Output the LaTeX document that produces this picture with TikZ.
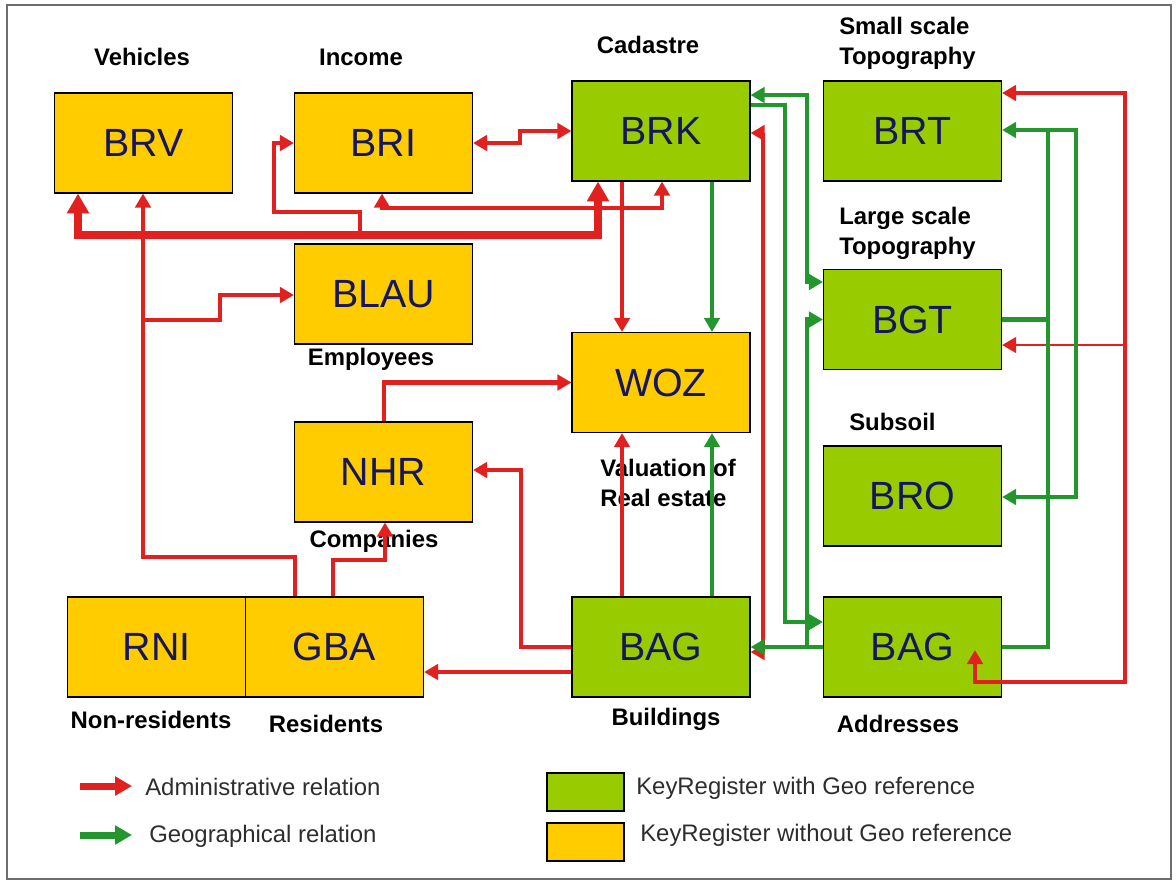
\documentclass[tikz,border=0pt]{standalone}
\usepackage{fontspec}
\setmainfont{Liberation Sans}
\usetikzlibrary{arrows.meta}
\definecolor{keyyellow}{RGB}{255,204,0}
\definecolor{keygreen}{RGB}{153,204,0}
\definecolor{admred}{RGB}{225,32,32}
\definecolor{geogreen}{RGB}{35,150,45}
\definecolor{regblue}{RGB}{22,22,92}
\definecolor{legendgray}{RGB}{45,45,45}
\definecolor{framegray}{RGB}{110,110,110}
\newcommand\regfont{\fontsize{28}{30}\selectfont}
\newcommand\capfont{\fontsize{17}{21}\selectfont\bfseries}
\newcommand\legfont{\fontsize{17}{21}\selectfont}
\begin{document}
\begin{tikzpicture}[x=0.025cm, y=-0.025cm,
    >={Triangle[length=10pt,width=11pt]},
    register/.style={draw=black, line width=0.8pt, minimum width=4.45cm, minimum height=2.5cm, inner sep=0pt, font=\regfont, text=regblue},
    georeg/.style={register, fill=keygreen},
    plainreg/.style={register, fill=keyyellow},
    caption/.style={font=\capfont, inner sep=0pt},
    legendtext/.style={font=\legfont, text=legendgray, inner sep=0pt},
    admlink/.style={draw=admred, line width=3pt, ->},
    geolink/.style={draw=geogreen, line width=3pt, ->},
    bus/.style={line width=5pt, >={Triangle[length=14pt,width=15pt]}}]
    \useasboundingbox (0,0) rectangle (1176,883);
    \draw[framegray, line width=1.5pt] (7,5) rectangle (1171,879);

    % Registers
    \node[plainreg] (brv) at (143.5,143) {BRV};
    \node[plainreg] (bri) at (383.5,143) {BRI};
    \node[georeg] (brk) at (661,131) {BRK};
    \node[georeg] (brt) at (912.5,131) {BRT};
    \node[plainreg] (blau) at (383.5,294) {BLAU};
    \node[plainreg] (woz) at (661,382.5) {WOZ};
    \node[georeg] (bgt) at (912.5,319.5) {BGT};
    \node[plainreg] (nhr) at (383.5,472) {NHR};
    \node[georeg] (bro) at (912.5,496) {BRO};
    \node[plainreg] (rni) at (156.5,647) {RNI};
    \node[plainreg] (gba) at (334.5,647) {GBA};
    \node[georeg] (bag) at (661,647) {BAG};
    \node[georeg] (adr) at (912.5,647) {BAG};

    % Captions
    \node[caption, anchor=base] (vehicles) at (142,65) {Vehicles};
    \node[caption, anchor=base] (income) at (361,65) {Income};
    \node[caption, anchor=base] (cadastre) at (648,53) {Cadastre};
    \node[caption, anchor=north west, align=left] (smalltopo) at (839,17) {Small scale\\Topography};
    \node[caption, anchor=north west, align=left] (largetopo) at (839,207) {Large scale\\Topography};
    \node[caption, anchor=base] (employees) at (371,365) {Employees};
    \node[caption, anchor=base west] (subsoil) at (849,430) {Subsoil};
    \node[caption, anchor=north west, align=left] (valuation) at (600,459) {Valuation of\\Real estate};
    \node[caption, anchor=base] (companies) at (374,547) {Companies};
    \node[caption, anchor=base] (nonres) at (151,728) {Non-residents};
    \node[caption, anchor=base] (residents) at (326,732) {Residents};
    \node[caption, anchor=base] (buildings) at (666,725) {Buildings};
    \node[caption, anchor=base] (addresses) at (898,732) {Addresses};

    % Administrative relations
    \draw[admlink, bus, <->] (brv.south -| 78,0) |- (598,235) -- (brk.south -| 598,0);
    \draw[admlink, line width=3.5pt] (360,235) |- (274,212) |- (bri.west);
    \draw[admlink] (gba.north -| 295,0) |- (143,557) -- (brv.south -| 143,0);
    \draw[admlink] (143,320) -| (220,295) -- (blau.west |- 0,295);
    \draw[admlink, line width=2.5pt, <->] (bri.south -| 382,0) |- (662,208) -- (brk.south -| 662,0);
    \draw[admlink, <->] (bri.east) -- (520,143) |- (brk.west);
    \draw[admlink] (brk.south -| 622,0) -- (woz.north -| 622,0);
    \draw[admlink] (nhr.north -| 384,0) |- (woz.west);
    \draw[admlink] (gba.north -| 333,0) |- (385,560) -- (nhr.south -| 385,0);
    \draw[admlink] (bag.west) -| (521,470) -- (nhr.east |- 0,470);
    \draw[admlink] (bag.west |- 0,672) -- (gba.east |- 0,672);
    \draw[admlink] (bag.north -| 622,0) -- (woz.south -| 622,0);
    \draw[admlink, <->] (brk.east |- 0,133) -| (763,652) -- (bag.east |- 0,652);
    \draw[admlink, -] (adr.west) -- (763,647);
    \coordinate (adrtip) at (975,650);
    \draw[admlink, <->] (adrtip) |- (1125,682) |- (brt.east |- 0,93);
    \draw[admlink, line width=2pt] (1125,345) -- (bgt.east |- 0,345);

    % Geographical relations
    \draw[geolink] (brk.south -| 712,0) -- (woz.north -| 712,0);
    \draw[geolink] (bag.north -| 712,0) -- (woz.south -| 712,0);
    \draw[geolink, <->] (brk.east |- 0,95) -| (807,282) -- (bgt.west |- 0,282);
    \draw[geolink] (807,647) |- (bgt.west);
    \draw[geolink] (brk.east |- 0,105) -| (785,622) -- (adr.west |- 0,622);
    \draw[geolink] (adr.west) -- (bag.east);
    \draw[geolink] (adr.east) -| (1048,130) -- (brt.east |- 0,130);
    \draw[geolink, -] (bgt.east) -- (1048,319.5);
    \draw[geolink] (1048,130) -| (1076,497) -- (bro.east |- 0,497);

    % Legend
    \coordinate (admstart) at (80,786);
    \coordinate (admend) at (132,786);
    \coordinate (geostart) at (80,835);
    \coordinate (geoend) at (132,835);
    \draw[admlink, line width=5pt, >={Triangle[length=12pt,width=13pt]}] (admstart) -- (admend);
    \draw[geolink, line width=5pt, >={Triangle[length=12pt,width=13pt]}] (geostart) -- (geoend);
    \node[legendtext, anchor=base west] (admtext) at (145,795) {Administrative relation};
    \node[legendtext, anchor=base west] (geotext) at (149,842) {Geographical relation};
    \node[georeg, minimum width=1.925cm, minimum height=0.95cm] (geokey) at (585.5,792) {};
    \node[plainreg, minimum width=1.925cm, minimum height=0.95cm] (plainkey) at (585.5,842) {};
    \node[legendtext, anchor=base west] (geokeytext) at (636,794) {KeyRegister with Geo reference};
    \node[legendtext, anchor=base west] (plainkeytext) at (640,841) {KeyRegister without Geo reference};
\end{tikzpicture}
\end{document}
